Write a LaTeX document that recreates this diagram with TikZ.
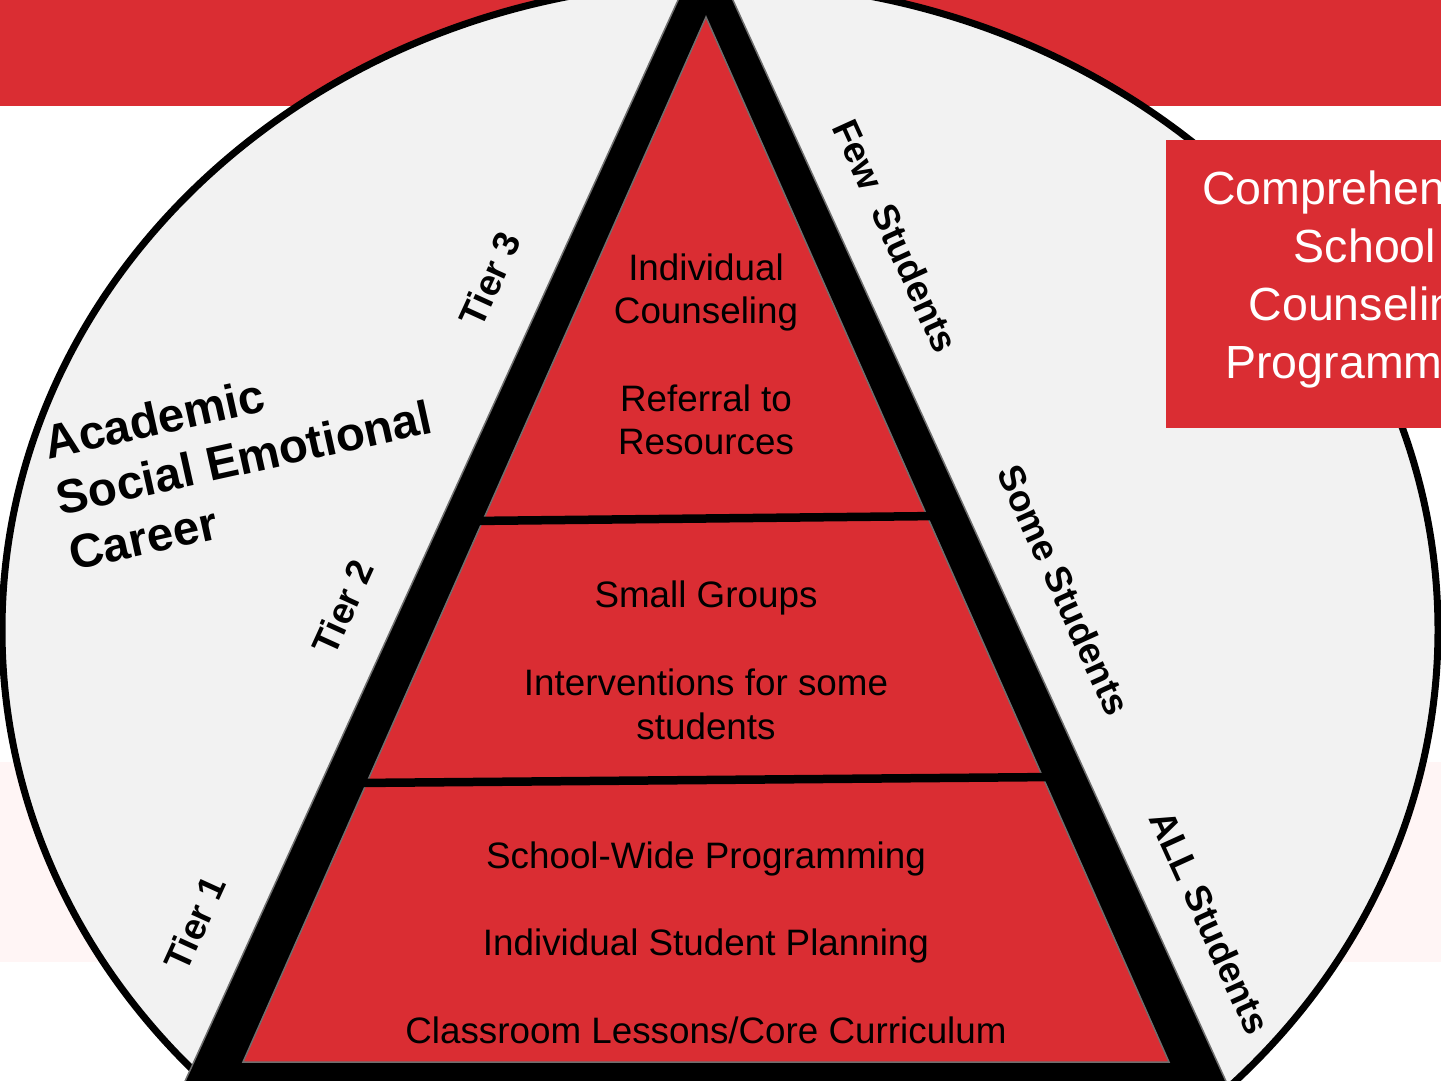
\documentclass[tikz,border=0pt]{standalone}
\usepackage{fontspec}
\setmainfont{Liberation Sans}
\definecolor{myred}{RGB}{218,45,51}
\definecolor{circfill}{RGB}{242,242,242}
\definecolor{edgegray}{RGB}{110,110,110}
\definecolor{faintpink}{RGB}{255,245,245}
\begin{document}
\begin{tikzpicture}[x=1pt,y=-1pt,
  pyrtext/.style={anchor=base, inner sep=0pt, font=\fontsize{36.8}{44}\selectfont, text=black},
  sidelbl/.style={inner sep=0pt, font=\bfseries\fontsize{37}{44}\selectfont, rotate=-65.5},
  tierlbl/.style={inner sep=0pt, font=\bfseries\fontsize{37}{44}\selectfont, rotate=65.5},
  divider/.style={line width=8.5pt, black},
  triedge/.style={draw=edgegray, line width=1.5pt}
]
\useasboundingbox (0,0) rectangle (1441,1080);
\clip (0,0) rectangle (1441,1080);
\fill[white] (0,0) rectangle (1441,1080);
\fill[faintpink] (0,762) rectangle (1441,962);
\fill[myred] (0,0) rectangle (1441,106);
\draw[line width=7pt, fill=circfill] (720,630) ellipse [x radius=718pt, y radius=648pt];
% outer black triangle
\path[triedge, fill=black] (705.5,-60) -- (1240,1112) -- (171,1112) -- cycle;
% inner red triangle
\path[triedge, fill=myred] (706,17) -- (1169,1062) -- (243,1062) -- cycle;
% dividers
\draw[divider] (470,521) -- (940,516);
\draw[divider] (355,783) -- (1055,777);
% pyramid texts
\node[pyrtext] (t3a) at (706,280) {Individual};
\node[pyrtext] (t3b) at (706,323) {Counseling};
\node[pyrtext] (t3c) at (706,411) {Referral to};
\node[pyrtext] (t3d) at (706,454) {Resources};
\node[pyrtext] (t2a) at (706,607) {Small Groups};
\node[pyrtext] (t2b) at (706,695) {Interventions for some};
\node[pyrtext] (t2c) at (706,739) {students};
\node[pyrtext] (t1a) at (706,868) {School-Wide Programming};
\node[pyrtext] (t1b) at (706,955) {Individual Student Planning};
\node[pyrtext] (t1c) at (706,1043) {Classroom Lessons/Core Curriculum};
% side labels
\node[sidelbl] (few) at (896,236) {Few\ \ Students};
\node[sidelbl] (some) at (1064,590) {Some Students};
\node[sidelbl] (all) at (1210,922) {ALL Students};
\node[tierlbl] (tier3) at (490,279) {Tier 3};
\node[tierlbl] (tier2) at (343,607) {Tier 2};
\node[tierlbl] (tier1) at (195,923) {Tier 1};
% domains
\node[font=\bfseries\fontsize{47.5}{57}\selectfont, align=left, rotate=12.5, inner sep=0pt] (domains) at (244,457) {Academic\\Social Emotional\\Career};
% title box
\fill[myred] (1166,140) rectangle (1460,428);
\node[text=white, font=\fontsize{46.5}{58}\selectfont, align=center, inner sep=0pt] (title) at (1365,279) {Comprehensive\\School\\Counseling\\Programming};
\end{tikzpicture}
\end{document}
